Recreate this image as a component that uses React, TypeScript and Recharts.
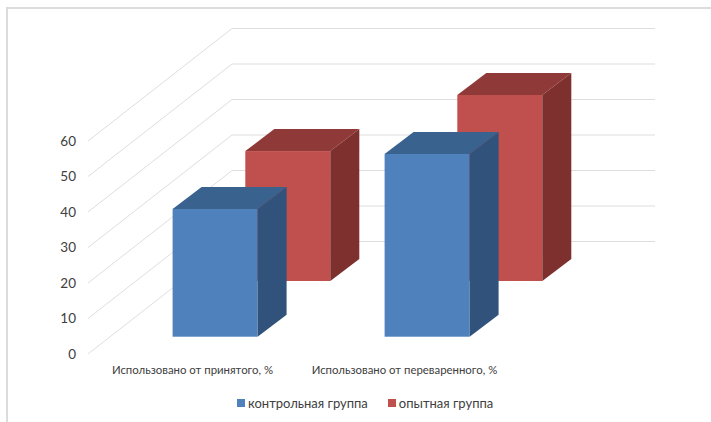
import React from "react";
import { BarChart, Bar, XAxis, YAxis, CartesianGrid, Legend } from "recharts";

const categories = ["Использовано от принятого, %", "Использовано от переваренного, %"];
const controlValues = [36, 51.5];
const experimentValues = [36.6, 52.4];
const yTicks = [0, 10, 20, 30, 40, 50, 60];
const CONTROL = "контрольная группа";
const EXPERIMENT = "опытная группа";

const rows = categories.map((name, i) => ({
  name,
  [CONTROL]: controlValues[i],
  [EXPERIMENT]: experimentValues[i],
}));

const FONT = "Lato, 'Liberation Sans', sans-serif";
const TEXT = "#404040";
const GRID = "#dedede";
const WALL_DX = 144;
const WALL_DY = 112.5;
const DEPTH_DX = 29;
const DEPTH_DY = 22;

function wallLine(props: any) {
  const { x1, y1, x2, index } = props;
  const bx = x1 + WALL_DX;
  const by = y1 - WALL_DY;
  return (
    <path
      key={index}
      d={`M${x1},${y1}L${bx},${by}L${x2 + WALL_DX - 1},${by}`}
      fill="none"
      stroke={GRID}
      strokeWidth={1}
    />
  );
}

function box(front: string, top: string, side: string, shiftX: number, shiftY: number) {
  return (props: any) => {
    const x = props.x + shiftX;
    const y = props.y + shiftY;
    const { width: w, height: h } = props;
    return (
      <g>
        <rect x={x} y={y} width={w} height={h} fill={front} />
        <path
          d={`M${x},${y}L${x + DEPTH_DX},${y - DEPTH_DY}L${x + w + DEPTH_DX},${y - DEPTH_DY}L${x + w},${y}Z`}
          fill={top}
        />
        <path
          d={`M${x + w},${y}L${x + w + DEPTH_DX},${y - DEPTH_DY}L${x + w + DEPTH_DX},${y + h - DEPTH_DY}L${x + w},${y + h}Z`}
          fill={side}
        />
      </g>
    );
  };
}

const legendColors: Record<string, string> = { [CONTROL]: "#4F81BD", [EXPERIMENT]: "#C0504D" };
const legendOrder = [CONTROL, EXPERIMENT];

function LegendContent() {
  return (
    <div style={{ display: "flex", alignItems: "center", fontFamily: FONT, fontSize: 13, color: TEXT, whiteSpace: "nowrap" }}>
      {legendOrder.map((name) => (
        <span key={name} style={{ display: "inline-flex", alignItems: "center", marginRight: 20 }}>
          <span style={{ display: "inline-block", width: 8, height: 8, background: legendColors[name], marginRight: 3 }} />
          {name}
        </span>
      ))}
    </div>
  );
}

export default function App() {
  return (
    <div style={{ position: "fixed", left: 0, top: 0, width: 711, height: 422, background: "#fff" }}>
      <div
        style={{
          position: "absolute",
          left: 6,
          top: 7,
          width: 705,
          height: 415,
          borderLeft: "2px solid #dcdcdc",
          borderTop: "2px solid #dcdcdc",
          boxSizing: "border-box",
        }}
      />
      <BarChart
        width={711}
        height={422}
        data={rows}
        margin={{ top: 141, right: 199, bottom: 38, left: 0 }}
        barSize={85}
        barGap={-85}
        style={{ position: "absolute", left: 0, top: 0 }}
      >
        <CartesianGrid vertical={false} horizontal={wallLine} />
        <XAxis
          dataKey="name"
          axisLine={false}
          tickLine={false}
          interval={0}
          tick={{ fontSize: 11.4, fill: TEXT, fontFamily: FONT, dx: -1.5 }}
          tickMargin={6}
        />
        <YAxis
          domain={[0, 60]}
          ticks={yTicks}
          width={88}
          axisLine={false}
          tickLine={false}
          tickMargin={6}
          tick={{ fontSize: 13.5, fill: TEXT, fontFamily: FONT }}
        />
        <Legend
          layout="horizontal"
          verticalAlign="middle"
          align="center"
          wrapperStyle={{ left: 237, top: 395, width: 300, right: "auto" }}
          content={<LegendContent />}
        />
        <Bar
          dataKey={EXPERIMENT}
          fill="#C0504D"
          isAnimationActive={false}
          shape={box("#C0504D", "#8F3A38", "#7D302E", 93.3, -73)}
        />
        <Bar
          dataKey={CONTROL}
          fill="#4F81BD"
          isAnimationActive={false}
          shape={box("#4F81BD", "#3A628F", "#31527B", 20.6, -17.3)}
        />
      </BarChart>
    </div>
  );
}
